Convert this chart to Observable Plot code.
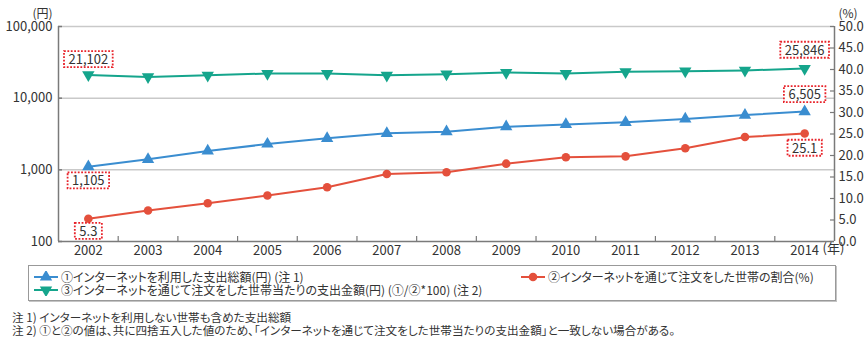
<!DOCTYPE html>
<html>
<head>
<meta charset="utf-8">
<script src="https://cdn.jsdelivr.net/npm/d3@7"></script>
<script src="https://cdn.jsdelivr.net/npm/@observablehq/plot@0.6"></script>
<style>
  body { margin: 0; background: #fff; font-family: 'Noto Sans CJK JP', 'Noto Sans', sans-serif; color: #333; }
  #wrap { position: relative; width: 868px; height: 341px; overflow: hidden; }
  #wrap svg.chart { position: absolute; left: 0; top: 0; }
  .legend { position: absolute; left: 28px; top: 265px; width: 806px; height: 34px; border: 1px solid #999; box-shadow: 1px 1px 0 #c4c4c4; background: #fff; }
  .item { position: absolute; font-size: 12px; line-height: 14px; white-space: nowrap; color: #333; font-feature-settings: "palt"; }
  .item svg { position: absolute; left: 0; top: 1px; }
  .item span { position: absolute; left: 27px; top: 0; }
  .note { position: absolute; left: 12px; font-size: 11.6px; line-height: 12px; white-space: nowrap; color: #333; font-feature-settings: "palt"; }
</style>
</head>
<body>
<div id="wrap"></div>
<script>
// ---- data ----
const years = [2002, 2003, 2004, 2005, 2006, 2007, 2008, 2009, 2010, 2011, 2012, 2013, 2014];
// ① インターネットを利用した支出総額 (円)
const totalSpend = [1105, 1400, 1830, 2290, 2750, 3230, 3400, 3990, 4300, 4600, 5130, 5800, 6505];
// ② インターネットを通じて注文をした世帯の割合 (%)
const orderRate = [5.3, 7.2, 8.9, 10.7, 12.6, 15.7, 16.1, 18.1, 19.6, 19.8, 21.7, 24.3, 25.1];
// ③ インターネットを通じて注文をした世帯当たりの支出金額 (円)
const perHousehold = [21102, 19800, 20900, 22100, 22100, 20900, 21600, 22800, 22100, 23300, 23800, 24400, 25846];
const leftTicks = [100, 1000, 10000, 100000];
const rightTicks = [0, 5, 10, 15, 20, 25, 30, 35, 40, 45, 50];
const seriesNames = [
  "①インターネットを利用した支出総額(円) (注 1)",
  "②インターネットを通じて注文をした世帯の割合(%)",
  "③インターネットを通じて注文をした世帯当たりの支出金額(円) (①/②*100) (注 2)"
];
const notes = [
  "注 1) インターネットを利用しない世帯も含めた支出総額",
  "注 2) ①と②の値は、共に四捨五入した値のため、「インターネットを通じて注文をした世帯当たりの支出金額」と一致しない場合がある。"
];

// ---- styling ----
const BLUE = "#3a8dd0", RED = "#e4503c", GREEN = "#15a58c";
const AXIS = "#7a7a7a", GRID = "#c9c9c9", TXT = "#333";
const FONT = "'Noto Sans CJK JP', 'Noto Sans', sans-serif";

const rows = years.map((y, i) => ({year: y, total: totalSpend[i], rate: orderRate[i], per: perHousehold[i]}));
const first = [rows[0]], last = [rows[rows.length - 1]];
const fmt = d3.format(",");

const W = 868, H = 262, MT = 26, MB = 21, ML = 58, MR = 34;
const FW = W - ML - MR, FH = H - MT - MB;
const xDomain = [years[0] - 0.5, years[years.length - 1] + 0.5];
const bounds = years.slice(1).map(y => y - 0.5);

const common = {
  width: W, height: H, marginTop: MT, marginBottom: MB, marginLeft: ML, marginRight: MR,
  x: {domain: xDomain, axis: null},
  style: {fontFamily: FONT, fontSize: "13px", color: TXT, background: "transparent", overflow: "visible"}
};

const lbl = {fill: TXT, fontSize: 13, textAnchor: "middle", ariaDescription: "vlabel"};

const p1 = Plot.plot({
  ...common,
  y: {type: "log", domain: [100, 100000], axis: null},
  marks: [
    Plot.ruleY(leftTicks.slice(1), {y: d => d, stroke: GRID, strokeWidth: 1.5}),
    Plot.axisY({anchor: "left", label: null, ticks: leftTicks, tickFormat: fmt, tickSize: 0, tickPadding: 6, fontSize: 13, fill: TXT}),
    Plot.tickY(leftTicks, {y: d => d, insetRight: FW - 4, stroke: AXIS, strokeWidth: 1.5}),
    Plot.axisX({anchor: "bottom", label: null, ticks: years, tickFormat: d => String(d), tickSize: 0, tickPadding: 4, fontSize: 13, fill: TXT}),
    Plot.tickX(bounds, {x: d => d, insetTop: FH - 5, stroke: AXIS, strokeWidth: 1.2}),
    Plot.ruleY([100], {y: d => d, stroke: AXIS, strokeWidth: 1.5}),
    Plot.ruleX([xDomain[0]], {x: d => d, stroke: AXIS, strokeWidth: 1.5}),
    Plot.text(["(円)"], {text: d => d, frameAnchor: "top-left", dx: -6, dy: -17, textAnchor: "end", fill: TXT, fontSize: 12}),
    Plot.text(["(年)"], {text: d => d, frameAnchor: "bottom-right", dx: -12, dy: 11, textAnchor: "start", fill: TXT, fontSize: 13}),
    Plot.line(rows, {x: "year", y: "per", stroke: GREEN, strokeWidth: 2}),
    Plot.dot(rows, {x: "year", y: "per", symbol: "triangle", rotate: 180, r: 4.6, fill: GREEN, stroke: "none"}),
    Plot.line(rows, {x: "year", y: "total", stroke: BLUE, strokeWidth: 2}),
    Plot.dot(rows, {x: "year", y: "total", symbol: "triangle", r: 4.6, fill: BLUE, stroke: "none"}),
    Plot.text(first, {x: "year", y: "per", text: d => fmt(d.per), dy: -15, ...lbl}),
    Plot.text(last, {x: "year", y: "per", text: d => fmt(d.per), dy: -18, ...lbl}),
    Plot.text(first, {x: "year", y: "total", text: d => fmt(d.total), dy: 14.5, ...lbl}),
    Plot.text(last, {x: "year", y: "total", text: d => fmt(d.total), dy: -16.5, ...lbl})
  ]
});

const p2 = Plot.plot({
  ...common,
  y: {domain: [0, 50], axis: null},
  marks: [
    Plot.axisY({anchor: "right", label: null, ticks: rightTicks, tickFormat: d3.format(".1f"), tickSize: 0, tickPadding: 4, fontSize: 13, fill: TXT}),
    Plot.tickY(rightTicks, {y: d => d, insetLeft: FW - 4, stroke: AXIS, strokeWidth: 1.2}),
    Plot.ruleX([xDomain[1]], {x: d => d, stroke: AXIS, strokeWidth: 1.5}),
    Plot.text(["(%)"], {text: d => d, frameAnchor: "top-right", dx: 4, dy: -17, textAnchor: "start", fill: TXT, fontSize: 12}),
    Plot.line(rows, {x: "year", y: "rate", stroke: RED, strokeWidth: 2}),
    Plot.dot(rows, {x: "year", y: "rate", r: 4.3, fill: RED, stroke: "none"}),
    Plot.text(first, {x: "year", y: "rate", text: d => d3.format(".1f")(d.rate), dy: 13, ...lbl}),
    Plot.text(last, {x: "year", y: "rate", text: d => d3.format(".1f")(d.rate), dy: 15, ...lbl})
  ]
});

const wrap = document.getElementById("wrap");
for (const p of [p1, p2]) {
  const svg = p.tagName.toLowerCase() === "svg" ? p : p.querySelector("svg");
  svg.classList.add("chart");
  wrap.appendChild(p);
}

// dotted red boxes behind the value labels
const NS = "http://www.w3.org/2000/svg";
wrap.querySelectorAll('g[aria-description="vlabel"] text').forEach(t => {
  const bb = t.getBBox();
  const cy = bb.y + bb.height / 2 + 0.5;
  const r = document.createElementNS(NS, "rect");
  r.setAttribute("x", bb.x - 4.5);
  r.setAttribute("y", cy - 8);
  r.setAttribute("width", bb.width + 9);
  r.setAttribute("height", 16);
  r.setAttribute("fill", "#fff");
  r.setAttribute("stroke", "#e8232a");
  r.setAttribute("stroke-width", 1.8);
  r.setAttribute("stroke-dasharray", "1.8 1.6");
  if (t.getAttribute("transform")) r.setAttribute("transform", t.getAttribute("transform"));
  t.parentNode.insertBefore(r, t);
});

// legend
function legendIcon(color, type) {
  const s = d3.create("svg").attr("width", 24).attr("height", 12);
  s.append("line").attr("x1", 0).attr("x2", 24).attr("y1", 6).attr("y2", 6).attr("stroke", color).attr("stroke-width", 2);
  let sym;
  if (type === "circle") sym = d3.symbol(d3.symbolCircle, Math.PI * 4.3 * 4.3);
  else sym = d3.symbol(d3.symbolTriangle, Math.PI * 4.6 * 4.6);
  s.append("path").attr("d", sym()).attr("fill", color)
    .attr("transform", `translate(12,6)${type === "down" ? " rotate(180)" : ""}`);
  return s.node();
}
const legend = document.createElement("div");
legend.className = "legend";
const items = [
  {name: seriesNames[0], color: BLUE, type: "up", left: 5, top: 3.5},
  {name: seriesNames[1], color: RED, type: "circle", left: 492, top: 3.5},
  {name: seriesNames[2], color: GREEN, type: "down", left: 5, top: 16.5}
];
for (const it of items) {
  const d = document.createElement("div");
  d.className = "item";
  d.style.left = it.left + "px";
  d.style.top = it.top + "px";
  d.appendChild(legendIcon(it.color, it.type));
  const sp = document.createElement("span");
  sp.textContent = it.name;
  d.appendChild(sp);
  legend.appendChild(d);
}
wrap.appendChild(legend);

notes.forEach((n, i) => {
  const d = document.createElement("div");
  d.className = "note";
  d.style.top = (311 + i * 12.5) + "px";
  d.textContent = n;
  wrap.appendChild(d);
});
</script>
</body>
</html>
